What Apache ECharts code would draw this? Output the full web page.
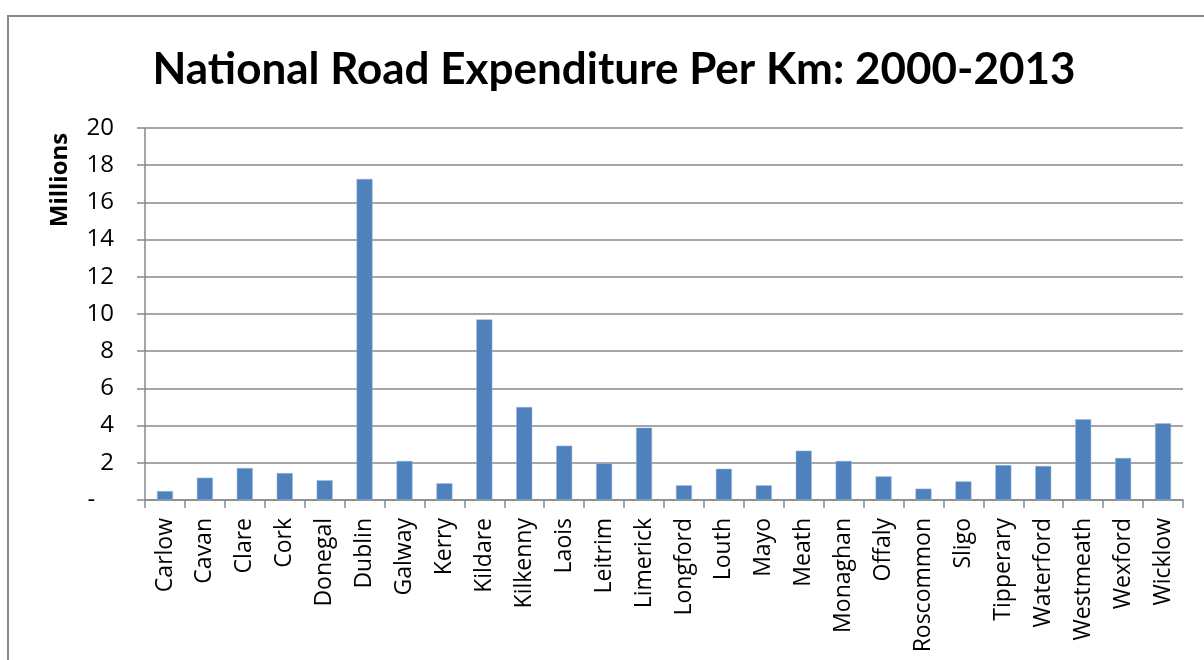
<!DOCTYPE html>
<html>
<head>
<meta charset="utf-8">
<script src="https://cdn.jsdelivr.net/npm/echarts@6/dist/echarts.min.js"></script>
<style>
  html, body { margin: 0; padding: 0; background: #fff; }
  #chart { width: 1204px; height: 660px; }
</style>
</head>
<body>
<div id="chart"></div>
<script>
// counties and spend per km (millions)
const counties = ['Carlow', 'Cavan', 'Clare', 'Cork', 'Donegal', 'Dublin', 'Galway', 'Kerry', 'Kildare', 'Kilkenny',
  'Laois', 'Leitrim', 'Limerick', 'Longford', 'Louth', 'Mayo', 'Meath', 'Monaghan', 'Offaly', 'Roscommon',
  'Sligo', 'Tipperary', 'Waterford', 'Westmeath', 'Wexford', 'Wicklow']
const spendPerKm = [0.48, 1.2, 1.72, 1.45, 1.06, 17.26, 2.1, 0.9, 9.71, 5.0,
  2.92, 1.97, 3.89, 0.79, 1.68, 0.79, 2.65, 2.1, 1.27, 0.61,
  1.0, 1.88, 1.83, 4.34, 2.26, 4.12]
const yTicks = [0, 2, 4, 6, 8, 10, 12, 14, 16, 18, 20]

const gridGray = '#898989'
let myChart = echarts.init(document.getElementById('chart'))
let option = {
  animation: false,
  backgroundColor: '#fff',
  title: {
    text: 'National Road Expenditure Per Km: 2000-2013',
    left: 609,
    top: 43,
    textAlign: 'center',
    textStyle: {
      fontFamily: 'Lato, sans-serif',
      fontWeight: 'bold',
      fontSize: 44,
      color: '#000'
    }
  },
  graphic: [
    {
      type: 'rect',
      shape: { x: 8, y: 16, width: 1300, height: 800 },
      style: { fill: 'none', stroke: '#888', lineWidth: 2 },
      silent: true
    },
    {
      type: 'text',
      x: 60,
      y: 180,
      rotation: Math.PI / 2,
      style: {
        text: 'Millions',
        fontFamily: '"Open Sans", sans-serif',
        fontWeight: 'bold',
        fontSize: 24,
        fill: '#000',
        align: 'center',
        verticalAlign: 'middle'
      }
    }
  ],
  grid: {
    left: 145,
    right: 21,
    top: 128,
    bottom: 160,
    containLabel: false
  },
  xAxis: {
    type: 'category',
    data: counties,
    axisLine: { lineStyle: { color: gridGray, width: 1.5 } },
    axisTick: { show: true, length: 8, lineStyle: { color: gridGray, width: 1.5 } },
    axisLabel: {
      rotate: 90,
      margin: 18,
      fontFamily: '"Open Sans", sans-serif',
      fontSize: 23,
      color: '#000',
      interval: 0
    }
  },
  yAxis: {
    type: 'value',
    min: yTicks[0],
    max: yTicks[yTicks.length - 1],
    interval: 2,
    axisLine: { show: true, lineStyle: { color: gridGray, width: 1.5 } },
    axisTick: { show: true, length: 8, lineStyle: { color: gridGray, width: 1.5 } },
    splitLine: { lineStyle: { color: gridGray, width: 1.5 } },
    axisLabel: {
      margin: 31,
      fontFamily: '"Open Sans", sans-serif',
      fontSize: 24,
      color: '#000',
      formatter: v => (v === 0 ? '-   ' : String(v))
    }
  },
  series: [
    {
      type: 'bar',
      data: spendPerKm,
      barWidth: 16,
      itemStyle: { color: '#4f81bd', borderColor: '#9fb9dc', borderWidth: 0.5 }
    }
  ]
}
myChart.setOption(option)
</script>
</body>
</html>
